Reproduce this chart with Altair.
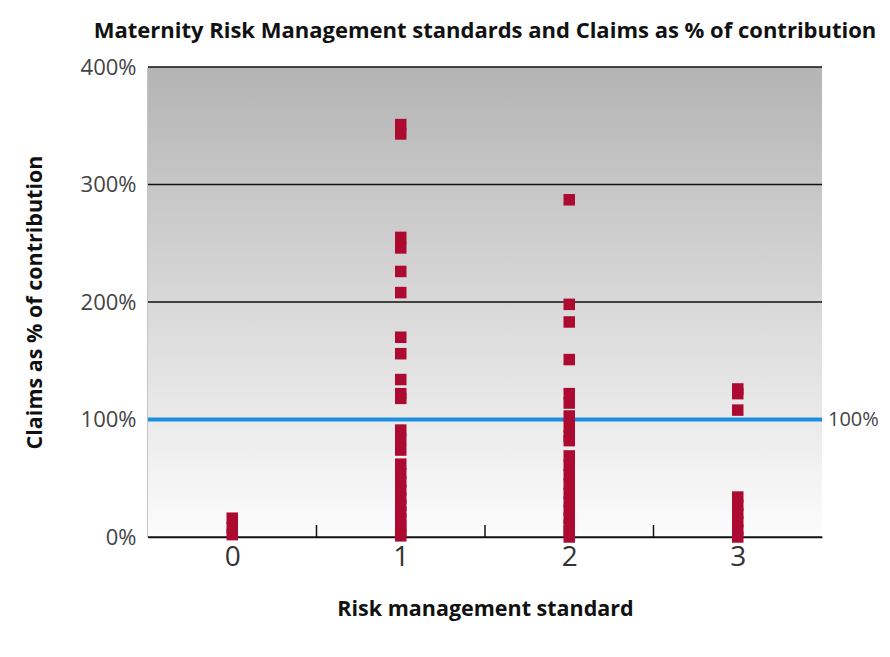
import altair as alt
import pandas as pd

# ---- data ----
categories = [0, 1, 2, 3]
claims_std0 = [16, 8, 2]
claims_std1 = [351, 343, 255, 246, 226, 208, 170, 156, 134, 122, 118,
               91, 83, 74, 62, 54, 47, 40, 33, 27, 21, 15, 10, 5, 1]
claims_std2 = [287, 198, 183, 151, 122, 114, 103, 94, 86, 82,
               69, 61, 53, 45, 37, 30, 23, 16, 10, 5, 0]
claims_std3 = [126, 122, 108, 34, 27, 20, 13, 6, 0]
y_ticks = [0, 100, 200, 300, 400]
reference_level = [100]
reference_label = ["100%"]

RED = "#AD0A32"
BLUE = "#1B8FE0"
FONT = "Open Sans"
W, H = 674, 470

rows = []
for cat, vals in zip(categories, [claims_std0, claims_std1, claims_std2, claims_std3]):
    for v in vals:
        rows.append({"standard": cat, "claims": v})
df = pd.DataFrame(rows)

bounds = [(a + b) / 2 for a, b in zip(categories[:-1], categories[1:])]
ticks_df = pd.DataFrame({"standard": bounds})
grid_df = pd.DataFrame({"claims": y_ticks})
ref_df = pd.DataFrame({"claims": reference_level, "label": reference_label})

x_scale = alt.Scale(domain=[categories[0] - 0.5, categories[-1] + 0.5], nice=False, zero=False)
y_scale = alt.Scale(domain=[y_ticks[0], y_ticks[-1]], nice=False)

XT = "Risk management standard"
YT = "Claims as % of contribution"

background = alt.Chart(ref_df).mark_rect(
    color=alt.LinearGradient(
        gradient="linear", x1=0, x2=0, y1=0, y2=1,
        stops=[alt.GradientStop(offset=0, color="#b4b4b4"),
               alt.GradientStop(offset=1, color="#fcfcfc")],
    )
).encode(
    x=alt.value(0), x2=alt.value(W), y=alt.value(0), y2=alt.value(H)
)

grid = alt.Chart(grid_df).mark_rule(color="#111", strokeWidth=1.5).encode(
    y=alt.Y("claims:Q", scale=y_scale, title=YT)
)

points = alt.Chart(df).mark_square(size=132, color=RED, opacity=1).encode(
    x=alt.X("standard:Q", scale=x_scale, title=XT,
            axis=alt.Axis(values=categories, format="d", ticks=False, grid=False,
                          labelFontSize=28, labelPadding=6, labelColor="#333",
                          titlePadding=27, domainColor="#111", domainWidth=1.5)),
    y=alt.Y("claims:Q", scale=y_scale, title=YT,
            axis=alt.Axis(values=y_ticks, ticks=False, grid=False,
                          labelExpr="datum.value + '%'",
                          labelFontSize=22, labelPadding=12, labelColor="#444",
                          titlePadding=34, domainColor="#111", domainWidth=1.5)),
)

ref_line = alt.Chart(ref_df).mark_rule(color=BLUE, strokeWidth=4).encode(
    y=alt.Y("claims:Q", scale=y_scale, title=YT)
)

ref_text = alt.Chart(ref_df).mark_text(
    align="left", baseline="middle", dx=6, fontSize=20, font=FONT, color="#444"
).encode(
    y=alt.Y("claims:Q", scale=y_scale, title=YT),
    x=alt.value(W),
    text="label:N",
)

inner_ticks = alt.Chart(ticks_df).mark_rule(color="#111", strokeWidth=1.5).encode(
    x=alt.X("standard:Q", scale=x_scale, title=XT),
    y=alt.value(H),
    y2=alt.value(H - 12),
)

chart = alt.layer(background, grid, ref_line, inner_ticks, points, ref_text).properties(
    width=W,
    height=H,
    title=alt.Title(
        "Maternity Risk Management standards and Claims as % of contribution",
        fontSize=22, fontWeight="bold", font=FONT, anchor="middle",
        offset=13, color="#111",
    ),
    padding={"left": 140, "top": 59, "right": 60, "bottom": 112},
    autosize=alt.AutoSizeParams(type="none"),
).configure(
    background="white",
).configure_view(
    stroke="transparent",
).configure_axis(
    labelFont=FONT, titleFont=FONT, titleFontSize=21.5, titleFontWeight="bold",
    titleColor="#111",
)

chart.save("out.html", embed_options={"renderer": "svg", "actions": False})
